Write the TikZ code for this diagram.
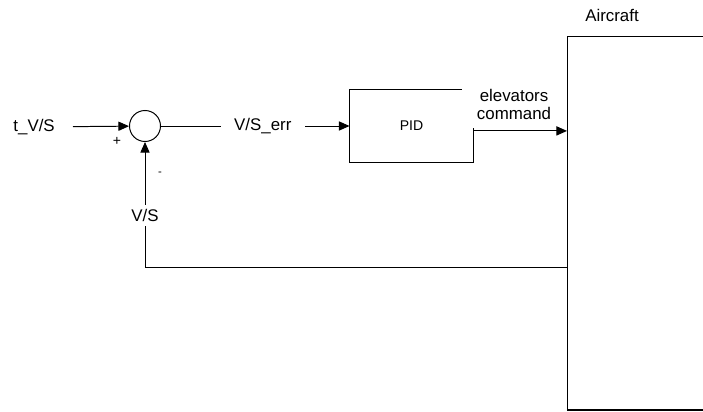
\documentclass[tikz,border=0pt]{standalone}
\usepackage{fontspec}
\setmainfont{Liberation Sans}
\usetikzlibrary{arrows.meta, positioning}

\begin{document}
\begin{tikzpicture}[x=0.025cm, y=-0.025cm,
        lbl/.style={font=\fontsize{12}{13}\selectfont, inner sep=0pt},
        sumnode/.style={draw, circle, minimum size=0.775cm, inner sep=0pt},
        block/.style={draw, minimum width=3.075cm, minimum height=1.8cm,
                      font=\fontsize{10}{12}\selectfont},
        arr/.style={-{Triangle[length=7.5pt, width=6.5pt]}, line width=0.7pt}
      ]
        \useasboundingbox (0,0) rectangle (703,412);
        \clip (0,0) rectangle (703,412);
        % blocks
        \node[sumnode, line width=0.7pt] (sum) at (145,126) {};
        \node[block, line width=0.7pt] (pid) at (411.5,126) {PID};
        \node[draw, line width=1pt, anchor=north west, minimum width=4cm,
              minimum height=9.325cm] (ac) at (567,36) {};
        \node[lbl, above right=0.35cm and 0.45cm of ac.north west] (aclbl) {Aircraft};
        % input
        \node[lbl, anchor=east, inner xsep=0.45cm] (tvs) at (73,127) {t\_V/S};
        \draw[arr] (tvs) -- (sum);
        \node[font=\fontsize{10}{11}\selectfont] (plus) at (117,141) {+};
        \node[font=\fontsize{8}{9}\selectfont] (minus) at (160,174) {-};
        % forward path
        \draw[arr] (sum) -- node[lbl, pos=0.54, fill=white, inner xsep=0.33cm,
              inner ysep=2pt] (err) {V/S\_err} (pid);
        \node[lbl, fill=white, align=center, inner xsep=0.37cm, inner ysep=5.7pt,
              anchor=south] (cmd) at (514,128) {elevators\\command};
        \draw[arr] ([yshift=-3.5pt]pid.east) -- ([yshift=-3.5pt]pid.east -| ac.west);
        % feedback
        \coordinate (fb) at (567,267);
        \draw[arr] (fb) -| node[lbl, pos=0.705, fill=white, inner ysep=3pt] (vs) {V/S}
              (sum.south);
      \end{tikzpicture}
\end{document}
